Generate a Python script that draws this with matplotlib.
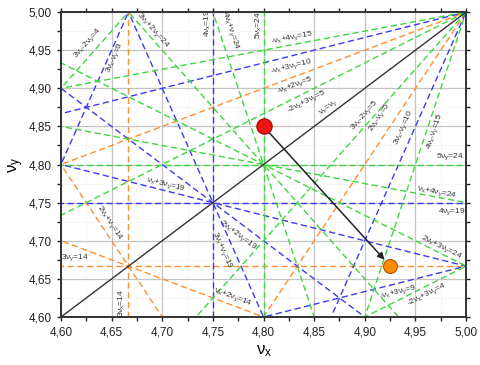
"""Tune diagram: resonance lines up to 5th order around (4.8, 4.8)."""

import numpy as np
import matplotlib as mpl
import matplotlib.pyplot as plt
from matplotlib.ticker import MultipleLocator, FuncFormatter

mpl.rcParams.update(
    {
        "font.family": ["Liberation Sans", "DejaVu Sans"],
        "mathtext.fontset": "custom",
        "mathtext.rm": "Liberation Sans",
        "mathtext.it": "Liberation Sans",
        "mathtext.bf": "Liberation Sans:bold",
    }
)

# resonance lines m*nu_x + n*nu_y = p
res_m = [3, 0, 1, 2, -1, 2,
         4, 0, 3, 1, 2, 3, 3, -1, -1,
         5, 0, 4, 1, 3, 2, 4, -1, 3, 3, -2, -2,
         1]
res_n = [0, 3, 2, 1, 2, -1,
         0, 4, 1, 3, 2, -1, -1, 3, 3,
         0, 5, 1, 4, 2, 3, -1, 4, -2, -2, 3, 3,
         -1]
res_p = [14, 14, 14, 14, 5, 5,
         19, 19, 19, 19, 19, 9, 10, 9, 10,
         24, 24, 24, 24, 24, 24, 15, 15, 4, 5, 4, 5,
         0]

# working points: initial (red) and final (orange)
tune_x = [4.80, 4.925]
tune_y = [4.85, 4.667]

ORDER_COLORS = {3: "#FF8F2E", 4: "#3B3BF0", 5: "#3CD83C", 2: "#333333"}

# label anchor (x, y) per line, same order as above
label_pos = [
    (4.660, 4.618), (4.614, 4.678), (4.770, 4.626), (4.648, 4.723), (4.831, 4.904), (4.915, 4.862),
    (4.745, 4.985), (4.986, 4.738), (4.759, 4.688), (4.703, 4.773), (4.775, 4.708), (4.653, 4.940),
    (4.938, 4.849), (4.933, 4.633), (4.828, 4.928),
    (4.795, 4.983), (4.984, 4.810), (4.767, 4.976), (4.971, 4.764), (4.691, 4.976), (4.976, 4.692),
    (4.969, 4.843), (4.828, 4.966), (4.626, 4.959), (4.900, 4.865), (4.961, 4.629), (4.843, 4.882),
    (4.864, 4.875),
]


def term(c, v, first):
    if c == 0:
        return ""
    s = ""
    if c < 0:
        s = "-"
    elif not first:
        s = "+"
    if abs(c) != 1:
        s += str(abs(c))
    return s + r"$\nu_{" + v + "}$"


def res_label(m, n, p):
    if p == 0:
        return r"$\nu_x$=$\nu_y$"
    t = term(m, "x", True)
    t += term(n, "y", t == "")
    return f"{t}={p}"


fig = plt.figure(figsize=(4.8, 3.65), dpi=100)
ax = fig.add_axes([0.127, 0.1315, 0.844, 0.8355])
ax.set_xlim(4.6, 5.0)
ax.set_ylim(4.6, 5.0)

xs = np.array([4.5, 5.1])
dash = (0, (4.5, 2.5))
for m, n, p, (lx, ly) in zip(res_m, res_n, res_p, label_pos):
    order = abs(m) + abs(n)
    if p == 0:
        order = 2
    col = ORDER_COLORS[order]
    if n == 0:
        ax.plot([p / m, p / m], [4.5, 5.1], color=col, lw=1.0, ls=dash, zorder=2)
        rot = 90
    elif m == 0:
        ax.plot(xs, [p / n, p / n], color=col, lw=1.0, ls=dash, zorder=2)
        rot = 0
    else:
        ys = (p - m * xs) / n
        if p == 0:
            ax.plot(xs, ys, color=col, lw=1.0, zorder=2)
        else:
            ax.plot(xs, ys, color=col, lw=1.0, ls=dash, zorder=2)
        rot = np.degrees(np.arctan(-m / n))
    ax.text(lx, ly, res_label(m, n, p), fontsize=6, color="#333333", rotation=rot,
            transform_rotates_text=True, rotation_mode="anchor",
            ha="center", va="center", zorder=4)

ax.annotate("", xy=(tune_x[1], tune_y[1]), xytext=(tune_x[0], tune_y[0]),
            arrowprops=dict(arrowstyle="-|>", color="#222222", lw=1.1,
                            shrinkA=0, shrinkB=6, mutation_scale=10), zorder=5)
ax.plot(tune_x[0], tune_y[0], "o", ms=11, mfc="#EE1515", mec="#A00000", mew=0.8, zorder=6)
ax.plot(tune_x[1], tune_y[1], "o", ms=10, mfc="#FF8C00", mec="#B05000", mew=0.8, zorder=6)

ax.xaxis.set_major_locator(MultipleLocator(0.05))
ax.yaxis.set_major_locator(MultipleLocator(0.05))
ax.xaxis.set_minor_locator(MultipleLocator(0.025))
ax.yaxis.set_minor_locator(MultipleLocator(0.025))
fmt = FuncFormatter(lambda v, _: f"{v:.2f}".replace(".", ","))
ax.xaxis.set_major_formatter(fmt)
ax.yaxis.set_major_formatter(fmt)
ax.grid(which="major", color="#C4C4C4", lw=0.9, zorder=0)
ax.grid(which="minor", color="#E4E4E4", lw=0.6, ls=":", zorder=0)
ax.set_axisbelow(True)
ax.tick_params(which="both", direction="out", length=3, width=1.0, labelsize=8.5,
               colors="#222222")
ax.tick_params(which="both", top=True, right=True)
for s in ax.spines.values():
    s.set_linewidth(1.4)
    s.set_color("#333333")

ax.set_xlabel(r"$\nu_x$", fontsize=12, labelpad=4)
ax.set_ylabel(r"$\nu_y$", fontsize=12, labelpad=2)

fig.savefig("out.png", dpi=100)
